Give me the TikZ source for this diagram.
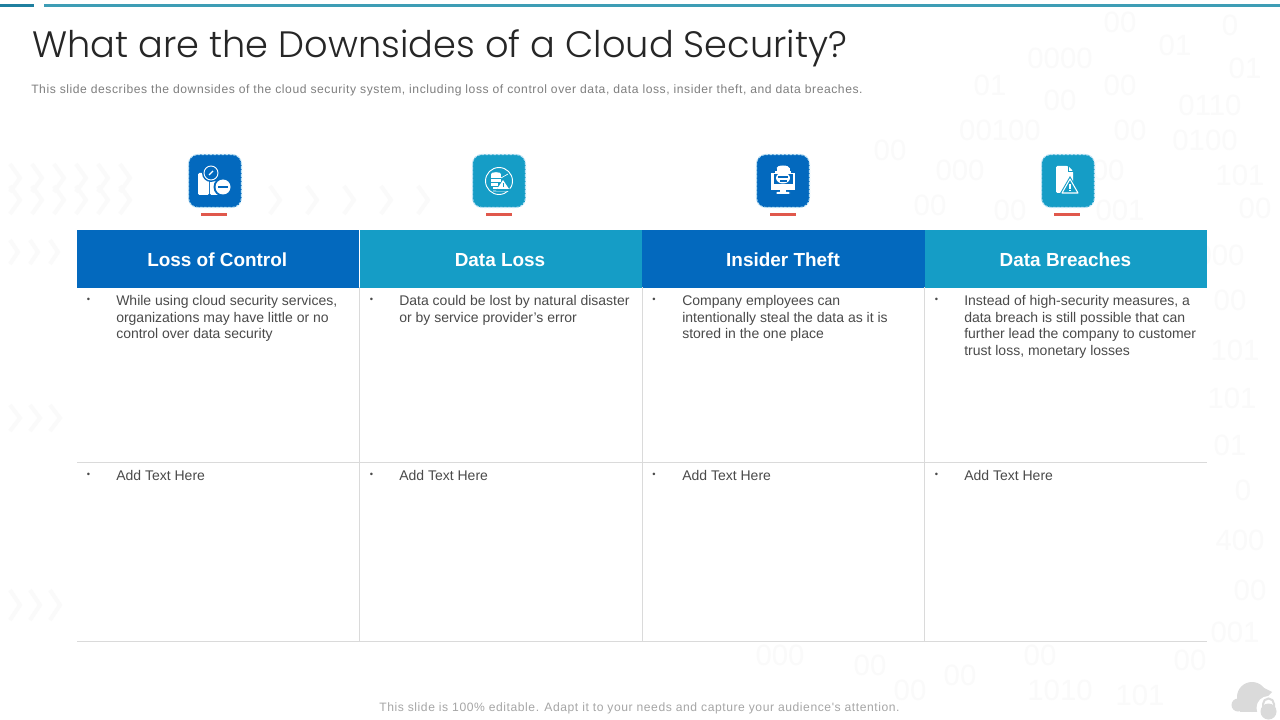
\documentclass[tikz,border=0pt]{standalone}
\usepackage{fontspec}
\setmainfont{Liberation Sans}
\newfontfamily\titlefont{Poppins Light}
\newfontfamily\spacedfont[LetterSpace=4.6]{Liberation Sans}
\definecolor{blueA}{HTML}{0369BE}
\definecolor{blueB}{HTML}{159DC6}
\definecolor{redbar}{HTML}{E0584C}
\definecolor{gridc}{HTML}{DADADA}
\definecolor{bodyc}{HTML}{4A4A4A}
\definecolor{subc}{HTML}{7F7F7F}
\definecolor{ghost}{HTML}{FAFAFA}
\definecolor{toplineA}{HTML}{1F7F9F}
\definecolor{toplineB}{HTML}{3E9DB5}
\definecolor{halo}{HTML}{BFE3F5}
\tikzset{
 head/.style={minimum width=282.5*0.75pt,minimum height=57*0.75pt,inner sep=0pt,text=white,font=\fontsize{14.2}{17}\selectfont\bfseries},
 cell/.style={anchor=north west,align=left,inner sep=0pt,text=bodyc,font=\fontsize{10.5}{12.4}\selectfont},
 bull/.style={anchor=center,inner sep=0pt,text=bodyc,font=\fontsize{7}{8}\selectfont},
 grid/.style={draw=gridc,line width=0.75pt},
 iconbox/.style={minimum size=53*0.75pt,inner sep=0pt,rounded corners=7pt,draw=halo,dashed,dash pattern=on 2pt off 1pt,line width=0.8pt},
 bar/.style={fill=redbar,draw=none,minimum width=26*0.75pt,minimum height=3*0.75pt,inner sep=0pt},
 bin/.style={text=ghost,font=\fontsize{22}{26}\selectfont,inner sep=0pt},
 chev/.style={draw=ghost,line width=3pt},
}
\begin{document}
\begin{tikzpicture}[x=0.75pt,y=-0.75pt]
\useasboundingbox (0,0) rectangle (1280,720);
\fill[white] (0,0) rectangle (1280,720);
% faint background digits
\foreach \px/\py/\t in {1120/22/00,1230/25/0,1060/58/0000,1175/45/01,1245/68/01,990/85/01,1120/85/00,1210/105/0110,1060/100/00,1000/130/00100,1130/130/00,1205/140/0100,1100/170/000,890/150/00,960/170/000,1240/175/101,930/205/00,1010/210/00,1120/210/001,1255/208/00,1220/255/000,1230/300/00,1235/350/101,1232/398/101,1230/445/01,1243/490/0,1240/540/400,1250/590/00,1235/632/001,1040/655/00,1190/660/00,960/675/00,1060/690/1010,1140/695/101,870/665/00,910/690/00,780/655/000}
 \node[bin] (d\px\py) at (\px,\py) {\t};
% faint chevrons
\foreach \py in {178,200}{
 \foreach \px in {10,32,54,76,98,120}
  \draw[chev] (\px,\py-14) -- (\px+10,\py) -- (\px,\py+14);
}
\foreach \px in {270,307,344,381,418}
 \draw[chev] (\px,186) -- (\px+10,200) -- (\px,214);
\foreach \px in {10,30,50}{
 \draw[chev] (\px,405) -- (\px+10,418) -- (\px,431);
 \draw[chev] (\px,590) -- (\px+10,605) -- (\px,620);
 \draw[chev] (\px,240) -- (\px+8,252) -- (\px,264);
}
% top rules
\coordinate (ta) at (0,5.5); \coordinate (tb) at (34,5.5);
\coordinate (tc) at (44,5.5); \coordinate (td) at (1280,5.5);
\draw[toplineA,line width=1.6pt] (ta) -- (tb);
\draw[toplineB,line width=1.6pt] (tc) -- (td);
% title
\node[anchor=west,inner sep=0pt,text=black!85,font=\titlefont\fontsize{27.55}{34}\selectfont] (title) at (32,48) {What are the Downsides of a Cloud Security?};
\node[anchor=west,inner sep=0pt,text=subc,font=\spacedfont\fontsize{9.1}{11}\selectfont] (sub) at (31,90) {This slide describes the downsides of the cloud security system, including loss of control over data, data loss, insider theft, and data breaches.};
% headers
\node[head,fill=blueA] (h1) at (218.2,259) {};
\node[head,fill=blueB] (h2) at (500.8,259) {};
\node[head,fill=blueA] (h3) at (783.4,259) {};
\node[head,fill=blueB] (h4) at (1066,259) {};
\node[text=white,inner sep=0pt,font=\fontsize{14.2}{17}\selectfont\bfseries] (t1) at (217.2,259.7) {Loss of Control};
\node[text=white,inner sep=0pt,font=\fontsize{14.2}{17}\selectfont\bfseries] (t2) at (500,259.7) {Data Loss};
\node[text=white,inner sep=0pt,font=\fontsize{14.2}{17}\selectfont\bfseries] (t3) at (783,259.7) {Insider Theft};
\node[text=white,inner sep=0pt,font=\fontsize{14.2}{17}\selectfont\bfseries] (t4) at (1065.5,259.7) {Data Breaches};
% grid
\coordinate (gl) at (77,462.5); \coordinate (gr) at (1207,462.5);
\coordinate (bl) at (77,641); \coordinate (br) at (1207,641);
\draw[grid] (gl) -- (gr);
\draw[grid] (bl) -- (br);
\foreach \x/\n in {359.5/a,642/b,924.5/c}{
 \coordinate (v\n t) at (\x,287); \coordinate (v\n b) at (\x,641);
 \draw[grid] (v\n t) -- (v\n b);
}
% body text
\foreach \x/\n in {88.5/1,371.5/2,654/3,936.5/4}{
 \node[bull] (ba\n) at (\x,300) {•};
 \node[bull] (bb\n) at (\x,475) {•};
}
\node[cell] (c1) at (116,295.5) {While using cloud security services,\\organizations may have little or no\\control over data security};
\node[cell] (c2) at (399,295.5) {Data could be lost by natural disaster\\or by service provider’s error};
\node[cell] (c3) at (682,295.5) {Company employees can\\intentionally steal the data as it is\\stored in the one place};
\node[cell] (c4) at (964,295.5) {Instead of high-security measures, a\\data breach is still possible that can\\further lead the company to customer\\trust loss, monetary losses};
\node[cell] (e1) at (116,470.5) {Add Text Here};
\node[cell] (e2) at (399,470.5) {Add Text Here};
\node[cell] (e3) at (682,470.5) {Add Text Here};
\node[cell] (e4) at (964,470.5) {Add Text Here};
% icon boxes
\node[iconbox,fill=blueA] (i1) at (215,181) {};
\node[iconbox,fill=blueB] (i2) at (499,181) {};
\node[iconbox,fill=blueA] (i3) at (783,181) {};
\node[iconbox,fill=blueB] (i4) at (1068,181) {};
\node[bar] (r1) at (214,215) {};
\node[bar] (r2) at (499,215) {};
\node[bar] (r3) at (783,215) {};
\node[bar] (r4) at (1067,215) {};
% icon 1: gauge, clipboard, minus
\begin{scope}[shift={(i1.center)}]
 \fill[white,rounded corners=1pt] (-17,-8) -- (-12,-8) -- (-6,-2) -- (-6,14) -- (-17,14) -- cycle;
 \fill[white,rounded corners=1pt] (-5,0) -- (8,0) -- (8,14) -- (-5,14) -- cycle;
 \fill[blueA] (-4,-8) circle (9);
 \draw[white,line width=0.7pt] (-4,-8) circle (7);
 \draw[white,line width=0.8pt] (-6,-6) -- (-2,-10);
 \fill[blueA] (8,6) circle (9.5);
 \fill[white] (8,6) circle (7.5);
 \fill[blueA] (3,4.8) rectangle (13,7.2);
\end{scope}
% icon 2: circle with database and warning
\begin{scope}[shift={(i2.center)}]
 \draw[white,line width=0.7pt] (0,0) circle (13.5);
 \fill[white] (-3,-7) ellipse (5 and 1.8);
 \fill[white] (-8,-7) rectangle (2,-3);
 \fill[white] (-8,-2) rectangle (2,1);
 \fill[white] (-8,2) rectangle (-1,5);
 \fill[white] (-6,6) rectangle (-1,8);
 \draw[white,line width=0.5pt] (-6,10) -- (7,10) (9,-7) -- (2,-3);
 \fill[blueB] (4,-2) -- (12,10) -- (-3,10) -- cycle;
 \fill[white] (4,-1) -- (10,8) -- (-2,8) -- cycle;
 \fill[blueB] (3.5,2) rectangle (4.5,6);
\end{scope}
% icon 3: hacker at monitor
\begin{scope}[shift={(i3.center)}]
 \fill[white] (-12,-8) rectangle (12,9);
 \fill[white] (-3,9) rectangle (3,11);
 \fill[white,rounded corners=1pt] (-7,11) rectangle (7,13);
 \fill[blueA] (-9.5,-7) rectangle (9.5,3);
 \fill[white] (0,-13) ellipse (6.5 and 2.5);
 \fill[white] (-6.5,-13) rectangle (6.5,-9.5);
 \fill[white] (-8,-9.5) rectangle (8,-8.3);
 \fill[white] (0,-3) ellipse (7 and 5.5);
 \fill[blueA] (-5,-5) rectangle (5,-3.2);
 \fill[blueA] (-3.5,-0.5) rectangle (3.5,0.8);
\end{scope}
% icon 4: document with warning
\begin{scope}[shift={(i4.center)}]
 \fill[white,rounded corners=1pt] (-12,-15) -- (0,-15) -- (5,-10) -- (5,12) -- (-12,12) -- cycle;
 \draw[blueB,line width=0.5pt] (0,-15) -- (0,-10) -- (5,-10);
 \fill[blueB] (2,-5) -- (13,14) -- (-9,14) -- cycle;
 \draw[white,line width=0.8pt,line join=round] (2,-2) -- (10,12) -- (-6,12) -- cycle;
 \fill[white] (1.2,3) rectangle (2.8,8);
 \fill[white] (1.2,9) rectangle (2.8,10.5);
\end{scope}
% footer
\node[anchor=center,inner sep=0pt,text=black!35,font=\spacedfont\fontsize{9.1}{11}\selectfont] (foot) at (639.5,708.5) {This slide is 100\% editable. Adapt it to your needs and capture your audience's attention.};
% cloud + lock
\fill[gridc] (1238,705) circle (6.5);
\fill[gridc] (1252,697) circle (15);
\fill[gridc] (1240,702) rectangle (1262,711.5);
\fill[gridc] (1262,687) -- (1272,692) -- (1264,700) -- cycle;
\fill[white] (1268.5,708) circle (12);
\draw[gridc,line width=1.5pt] (1263,708) -- (1263,704) arc (180:360:5.5) -- (1274,708);
\fill[gridc] (1268.5,711.5) circle (8);
\end{tikzpicture}
\end{document}
